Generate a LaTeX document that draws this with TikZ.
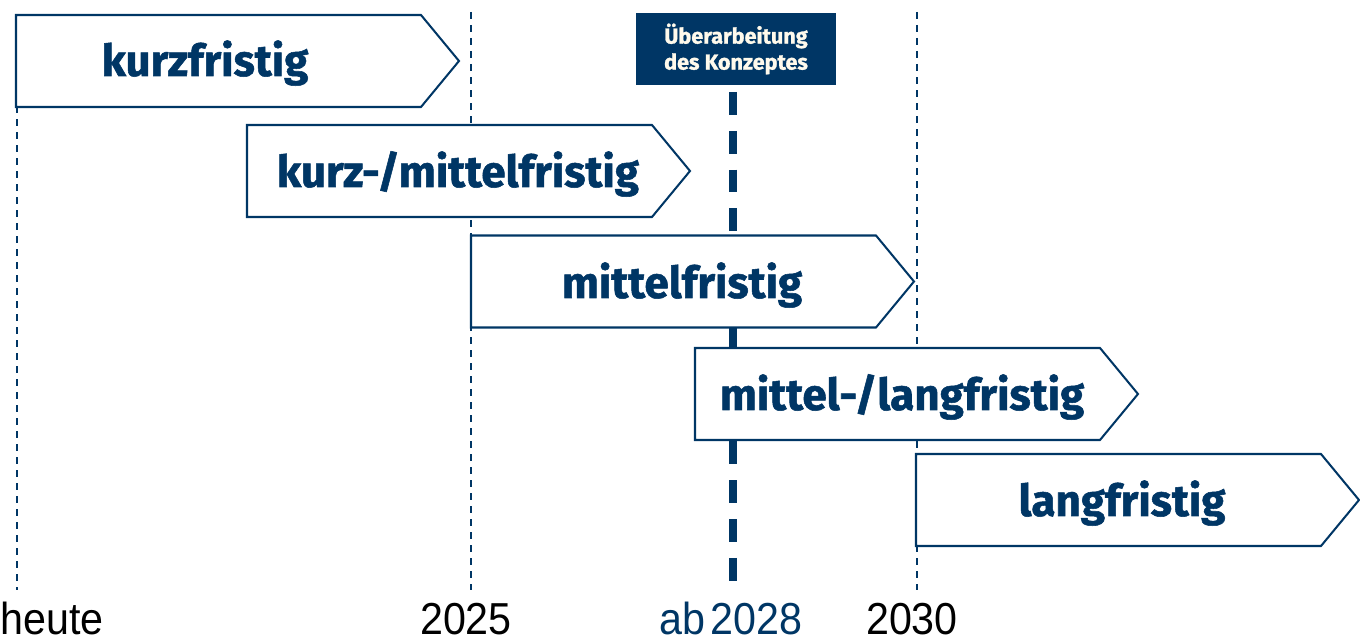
\documentclass[tikz,border=0pt]{standalone}
\usepackage{fontspec}
\setmainfont{Liberation Sans}[FakeStretch=0.92]
\newfontfamily\phasefont{Fira Sans}[BoldFeatures={FakeBold=1.2}]
\definecolor{navy}{RGB}{0,54,101}
\definecolor{cream}{RGB}{255,250,236}

\begin{document}
\begin{tikzpicture}[x=0.02cm, y=-0.02cm,
  phase/.style={draw=navy, fill=white, line width=1.15pt, line join=miter},
  phasetext/.style={anchor=base, inner sep=0pt, text=navy, font=\phasefont\bfseries\fontsize{25}{29}\selectfont},
  year/.style={anchor=base, inner sep=0pt, font=\fontsize{25.5}{30}\selectfont},
  marker/.style={navy, line width=1.15pt, dash pattern=on 4pt off 3.4pt},
  deadline/.style={navy, line width=4.3pt, dash pattern=on 13pt off 9.1pt},
  reviewbox/.style={fill=navy, text=cream, align=center, minimum width=4cm, minimum height=1.46cm, inner sep=0pt,
    font=\phasefont\bfseries\fontsize{12.3}{14.8}\selectfont}]
  \useasboundingbox (0,0) rectangle (1360,641);

  % time marks
  \coordinate (t0) at (17,15);
  \coordinate (b0) at (17,590);
  \coordinate (t2025) at (471,12);
  \coordinate (b2025) at (471,590);
  \coordinate (t2030) at (917,12);
  \coordinate (b2030) at (917,590);
  \coordinate (t2028) at (733,92);
  \coordinate (b2028) at (733,589);
  \draw[marker] (t0) -- (b0);
  \draw[marker] (t2025) -- (b2025);
  \draw[marker] (t2030) -- (b2030);
  \draw[deadline] (t2028) -- (b2028);

  % phases
  \draw[phase] (16,15) -- ++(405,0) -- ++(38,46) -- ++(-38,46) -- ++(-405,0) -- cycle;
  \draw[phase] (247,125) -- ++(405,0) -- ++(38,46) -- ++(-38,46) -- ++(-405,0) -- cycle;
  \draw[phase] (471,235.5) -- ++(405,0) -- ++(38,46) -- ++(-38,46) -- ++(-405,0) -- cycle;
  \draw[phase] (695,348) -- ++(405,0) -- ++(38,46) -- ++(-38,46) -- ++(-405,0) -- cycle;
  \draw[phase] (916,454) -- ++(405,0) -- ++(38,46) -- ++(-38,46) -- ++(-405,0) -- cycle;

  \node[phasetext] (kurz) at (205,76) {kurzfristig};
  \node[phasetext] (kurzmittel) at (458,187) {kurz-/mittelfristig};
  \node[phasetext] (mittel) at (682,298) {mittelfristig};
  \node[phasetext] (mittellang) at (902,410) {mittel-/langfristig};
  \node[phasetext] (lang) at (1122,516) {langfristig};

  \node[reviewbox] (review) at (736,49) {Überarbeitung\\des Konzeptes};

  % years
  \node[year, anchor=base west] (heute) at (0,635) {heute};
  \node[year] (y2025) at (466,635) {2025};
  \node[year, text=navy] (y2028) at (731,635) {ab\hspace{0.12em}2028};
  \node[year] (y2030) at (912,635) {2030};
\end{tikzpicture}
\end{document}
